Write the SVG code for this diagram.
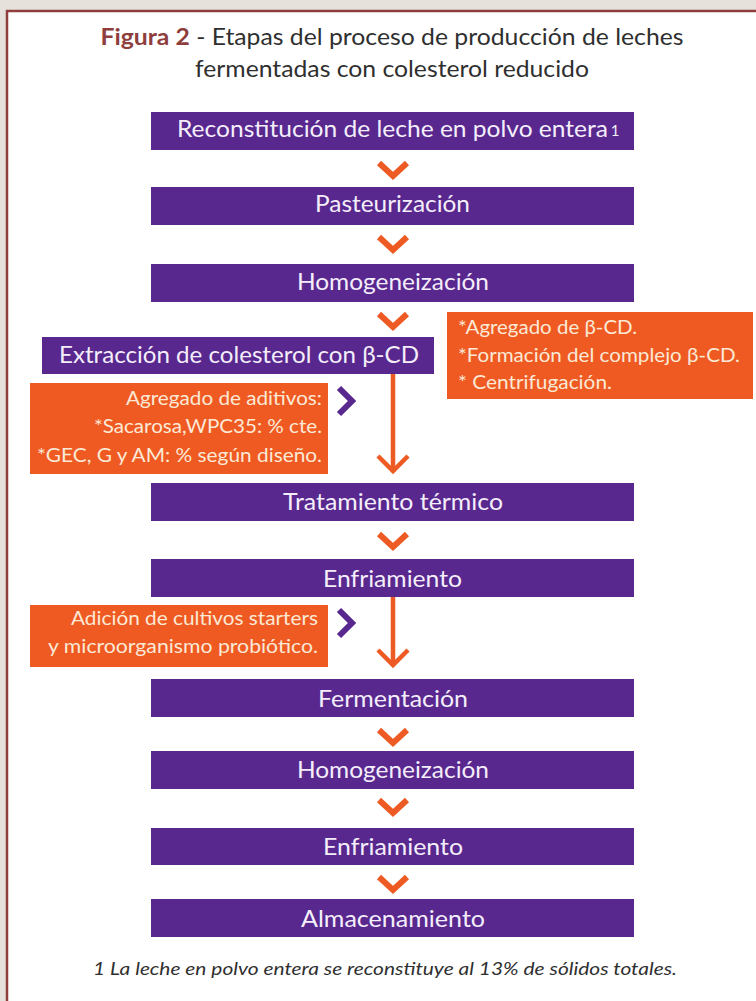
<svg xmlns="http://www.w3.org/2000/svg" width="756" height="1001" viewBox="0 0 756 1001">
<style>
.bg{fill:#e6e2db}
.panel{fill:#ffffff}
.frame{stroke:#8e3e3c;stroke-width:2.5;fill:none}
.step{fill:#58288f}
.note{fill:#ef5a23}
.st{font-family:Lato,"Open Sans","Liberation Sans",sans-serif;font-size:22.5px;fill:#f4eefa;text-anchor:middle}
.nt{font-family:Lato,"Open Sans","Liberation Sans",sans-serif;font-size:19.5px;fill:#fbe9d6}
.ttl{font-family:Lato,"Open Sans","Liberation Sans",sans-serif;font-size:23.5px;fill:#2f2f2f;text-anchor:middle}
.fig{fill:#8e3e3c;font-weight:bold}
.foot{font-family:Lato,"Open Sans","Liberation Sans",sans-serif;font-size:17.5px;font-style:italic;fill:#2f2f2f;text-anchor:middle}
.chev{fill:none;stroke:#ee5a23;stroke-width:6;stroke-linejoin:miter;stroke-linecap:butt}
.pchev{fill:none;stroke:#58288f;stroke-width:6;stroke-linejoin:miter;stroke-linecap:butt}
.flow{fill:none;stroke:#ee5a23;stroke-width:4.5;stroke-linejoin:miter;stroke-linecap:butt}
</style>
<rect class="bg" x="0" y="0" width="756" height="1001"/>
<rect class="panel" x="7" y="11" width="749" height="990"/>
<path class="frame" d="M7,1001 V11 H756"/>

<g id="title">
<text class="ttl" x="392" y="45" textLength="583" lengthAdjust="spacingAndGlyphs"><tspan class="fig">Figura 2</tspan> - Etapas del proceso de producción de leches</text>
<text class="ttl" x="392" y="77" textLength="394" lengthAdjust="spacingAndGlyphs">fermentadas con colesterol reducido</text>
</g>

<g id="n1"><rect class="step" x="151" y="112" width="483" height="38"/>
<text class="st" x="392.5" y="137" textLength="431" lengthAdjust="spacingAndGlyphs">Reconstitución de leche en polvo entera</text>
<text class="st" x="615" y="136" style="font-size:15px">1</text></g>

<g id="n2"><rect class="step" x="151" y="187" width="483" height="38"/>
<text class="st" x="392.5" y="212" textLength="155" lengthAdjust="spacingAndGlyphs">Pasteurización</text></g>

<g id="n3"><rect class="step" x="151" y="264" width="483" height="38"/>
<text class="st" x="393" y="290" textLength="192" lengthAdjust="spacingAndGlyphs">Homogeneización</text></g>

<g id="n4"><rect class="step" x="42" y="337" width="392" height="37"/>
<text class="st" x="239" y="363" textLength="360" lengthAdjust="spacingAndGlyphs">Extracción de colesterol con β-CD</text></g>

<g id="note1"><rect class="note" x="447" y="312" width="306" height="87"/>
<text class="nt" x="458" y="334" textLength="179" lengthAdjust="spacingAndGlyphs">*Agregado de β-CD.</text>
<text class="nt" x="458" y="362" textLength="282" lengthAdjust="spacingAndGlyphs">*Formación del complejo β-CD.</text>
<text class="nt" x="458" y="389" textLength="154" lengthAdjust="spacingAndGlyphs">* Centrifugación.</text></g>

<g id="note2"><rect class="note" x="30" y="383" width="298" height="91"/>
<text class="nt" x="322" y="405" text-anchor="end" textLength="196" lengthAdjust="spacingAndGlyphs">Agregado de aditivos:</text>
<text class="nt" x="322" y="433" text-anchor="end" textLength="228" lengthAdjust="spacingAndGlyphs">*Sacarosa,WPC35: % cte.</text>
<text class="nt" x="322" y="462" text-anchor="end" textLength="285" lengthAdjust="spacingAndGlyphs">*GEC, G y AM: % según diseño.</text></g>

<g id="n5"><rect class="step" x="151" y="483" width="483" height="38"/>
<text class="st" x="393" y="510" textLength="220" lengthAdjust="spacingAndGlyphs">Tratamiento térmico</text></g>

<g id="n6"><rect class="step" x="151" y="559" width="483" height="38"/>
<text class="st" x="392.5" y="587" textLength="139" lengthAdjust="spacingAndGlyphs">Enfriamiento</text></g>

<g id="note3"><rect class="note" x="30" y="605" width="298" height="62"/>
<text class="nt" x="318" y="625" text-anchor="end" textLength="247" lengthAdjust="spacingAndGlyphs">Adición de cultivos starters</text>
<text class="nt" x="318" y="653" text-anchor="end" textLength="270" lengthAdjust="spacingAndGlyphs">y microorganismo probiótico.</text></g>

<g id="n7"><rect class="step" x="151" y="679" width="483" height="38"/>
<text class="st" x="393" y="707" textLength="150" lengthAdjust="spacingAndGlyphs">Fermentación</text></g>

<g id="n8"><rect class="step" x="151" y="751" width="483" height="38"/>
<text class="st" x="393" y="778" textLength="192" lengthAdjust="spacingAndGlyphs">Homogeneización</text></g>

<g id="n9"><rect class="step" x="151" y="828" width="483" height="37"/>
<text class="st" x="393" y="855" textLength="140" lengthAdjust="spacingAndGlyphs">Enfriamiento</text></g>

<g id="n10"><rect class="step" x="151" y="899" width="483" height="38"/>
<text class="st" x="393" y="927" textLength="184" lengthAdjust="spacingAndGlyphs">Almacenamiento</text></g>

<g id="footnote">
<text class="foot" x="385" y="975" textLength="584" lengthAdjust="spacingAndGlyphs">1 La leche en polvo entera se reconstituye al 13% de sólidos totales.</text>
</g>

<g id="connectors">
<polyline class="chev" points="379,163 393,176 407,163"/>
<polyline class="chev" points="379,237 393,250 407,237"/>
<polyline class="chev" points="379,314 393,327 407,314"/>
<polyline class="chev" points="379,534 393,547 407,534"/>
<polyline class="chev" points="379,730 393,743 407,730"/>
<polyline class="chev" points="379,800 393,813 407,800"/>
<polyline class="chev" points="379,877 393,890 407,877"/>
<line class="flow" x1="393" y1="374" x2="393" y2="471"/>
<polyline class="flow" points="378,456 393,471 408,456"/>
<line class="flow" x1="393" y1="597" x2="393" y2="665"/>
<polyline class="flow" points="378,650 393,665 408,650"/>
<polyline class="pchev" points="339,388 352,401 339,414"/>
<polyline class="pchev" points="339,610 352,623 339,636"/>
</g>
</svg>
